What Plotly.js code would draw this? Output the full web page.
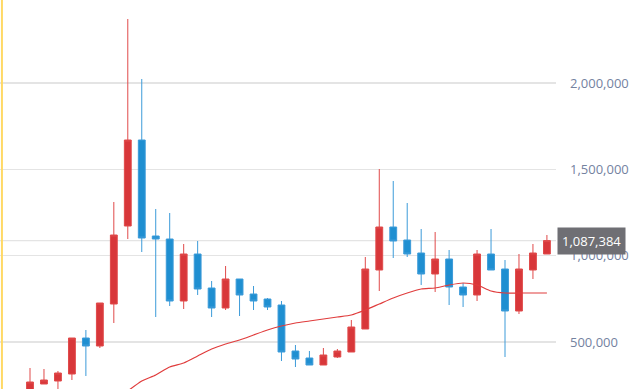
<!DOCTYPE html>
<html>
<head>
<meta charset="utf-8">
<script src="https://cdn.plot.ly/plotly-3.0.1.min.js"></script>
<style>html,body{margin:0;padding:0;background:#fff;}#chart{width:640px;height:389px;}</style>
</head>
<body>
<div id="chart"></div>
<script>
var idx = [0,1,2,3,4,5,6,7,8,9,10,11,12,13,14,15,16,17,18,19,20,21,22,23,24,25,26,27,28,29,30,31,32,33,34,35,36,37];
var openV  = [193000,256757,274131,314672,523167,476834,720079,1171815,1669885,1113900,1096526,737453,1009654,812743,696913,864866,777994,749036,714287,447876,407336,366795,413127,442085,575291,916990,1166024,1090734,1015445,893824,980696,818534,772202,1009654,922781,679538,916990,1009654];
var highV  = [349420,343629,332046,523167,569500,725870,1310812,2370656,2023166,1270271,1247105,1067569,1084943,853283,940156,864866,824326,754828,737453,482625,447876,465251,459459,627415,992279,1501931,1432433,1305020,1154441,1137066,1032820,841700,1032820,1154441,974905,1009654,1067569,1119692];
var lowV   = [180000,256757,210000,279923,303089,465251,610040,1096526,1021237,644789,708496,691121,772202,644789,685330,650581,685330,685330,389961,355212,366795,366795,407336,442085,575291,795368,986488,992279,830117,789577,714287,702704,737453,916990,413127,662164,864866,1009654];
var closeV = [268340,279923,320463,523167,476834,725870,1119692,1669885,1102317,1096526,737453,1009654,806951,696913,864866,772202,737453,702704,442085,401544,366795,424710,447876,586874,922781,1166024,1084943,1009654,893824,980696,818534,772202,1009654,916990,679538,922781,1015445,1087384];
var maV    = [null,null,null,null,null,null,null,216218,274131,308880,355212,378378,418919,459459,488417,511583,540541,569500,592665,610040,621622,633205,644789,656372,685330,720079,754828,783785,806951,812743,830117,841700,830117,795368,783785,783785,783785,783785];
var yTicks = [500000,1000000,1500000,2000000];
var yTickText = ['500,000','1,000,000','1,500,000','2,000,000'];
var lastPrice = 1087384;
var lastPriceText = '1,087,384';

var traces = [
  {
    type: 'candlestick',
    x: idx, open: openV, high: highV, low: lowV, close: closeV,
    increasing: {line: {color: '#e04a4a', width: 1}, fillcolor: '#d8373a'},
    decreasing: {line: {color: '#3c9bd9', width: 1}, fillcolor: '#1f8fd1'},
    hoverinfo: 'none',
    showlegend: false
  },
  {
    type: 'scatter', mode: 'lines',
    x: idx, y: maV,
    line: {color: '#e03c3c', width: 1.2, shape: 'spline', smoothing: 0.6},
    hoverinfo: 'none', showlegend: false
  }
];

var layout = {
  width: 640, height: 389,
  margin: {l: 0, r: 84, t: 0, b: 0, pad: 0},
  paper_bgcolor: '#ffffff', plot_bgcolor: '#ffffff',
  font: {family: 'Open Sans, sans-serif', size: 13, color: '#74829f'},
  showlegend: false,
  xaxis: {
    range: [-2.147, 37.65], visible: false, showgrid: false, zeroline: false,
    rangeslider: {visible: false}, fixedrange: true
  },
  yaxis: {
    side: 'right', range: [227801, 2480695],
    tickvals: yTicks, ticktext: yTickText,
    showgrid: true, gridcolor: '#e4e4e4', gridwidth: 1.3,
    zeroline: false, showline: false, ticks: '',
    ticklabelstandoff: 13,
    tickfont: {family: 'Open Sans, sans-serif', size: 13, color: '#74829f'},
    fixedrange: true
  },
  shapes: [
    {type: 'line', xref: 'paper', yref: 'y', x0: 0, x1: 1, y0: lastPrice, y1: lastPrice,
     line: {color: '#e4e4e4', width: 1.3}, layer: 'below'},
    {type: 'line', xref: 'paper', yref: 'paper', x0: 0.0035, x1: 0.0035, y0: 0, y1: 1,
     line: {color: '#ffd966', width: 2}}
  ],
  annotations: [
    {xref: 'paper', yref: 'y', x: 1.002, y: lastPrice, xanchor: 'left', yanchor: 'middle',
     text: lastPriceText, showarrow: false, bgcolor: '#6f6f74', borderpad: 4,
     font: {family: 'Open Sans, sans-serif', size: 13, color: '#ffffff'}}
  ]
};

Plotly.newPlot('chart', traces, layout, {displayModeBar: false, staticPlot: true});
</script>
</body>
</html>
